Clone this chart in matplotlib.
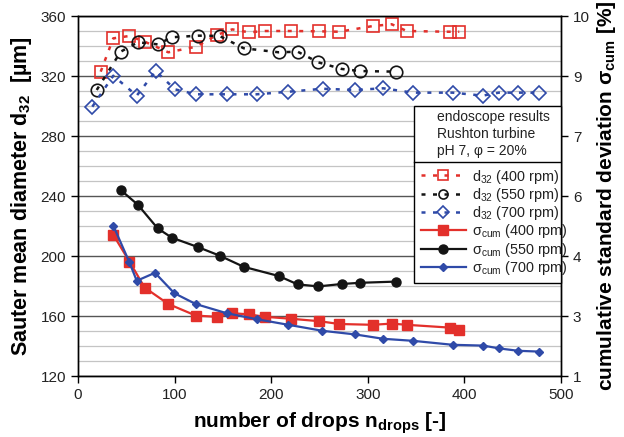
import matplotlib
matplotlib.use("Agg")
import matplotlib.pyplot as plt
from matplotlib.patches import Rectangle
from matplotlib.lines import Line2D
from matplotlib.ticker import MultipleLocator, FixedLocator, FixedFormatter

plt.rcParams['font.family'] = ['Liberation Sans', 'DejaVu Sans']
plt.rcParams['mathtext.fontset'] = 'custom'
plt.rcParams['mathtext.rm'] = 'Liberation Sans'
plt.rcParams['mathtext.it'] = 'Liberation Sans:italic'
plt.rcParams['mathtext.bf'] = 'Liberation Sans:bold'

# ---------------- data ----------------
# Sauter mean diameter d32 [um] (left axis)
d32_400_x = [23.5, 36.5, 53.3, 69.0, 93.5, 122.0, 143.6, 159.7, 177.0, 193.6, 221.0, 249.7, 270.5, 305.1, 324.7, 340.3, 384.7, 394.7]
d32_400_y = [322.9, 345.1, 346.7, 342.9, 335.8, 339.5, 347.3, 351.1, 349.1, 350.0, 350.0, 349.8, 349.5, 353.3, 354.5, 350.0, 349.5, 349.5]

d32_550_x = [19.4, 44.2, 62.0, 82.5, 97.0, 124.5, 146.5, 171.5, 207.8, 227.4, 248.8, 273.0, 291.9, 329.2]
d32_550_y = [310.7, 336.2, 342.5, 341.1, 345.8, 346.9, 346.7, 338.5, 335.8, 336.2, 329.1, 324.7, 323.3, 322.9]

d32_700_x = [14.8, 36.5, 60.8, 80.4, 100.4, 122.2, 153.9, 185.0, 217.7, 253.2, 286.7, 316.0, 346.5, 387.9, 418.9, 435.8, 455.8, 477.5]
d32_700_y = [299.5, 320.2, 306.9, 323.3, 311.1, 307.8, 307.8, 307.8, 309.5, 311.5, 310.7, 311.8, 308.9, 308.9, 306.9, 308.9, 308.9, 308.9]

# cumulative standard deviation sigma_cum [%] (right axis)
sig_400_x = [36.5, 53.3, 69.0, 93.5, 122.0, 143.6, 159.7, 177.0, 193.6, 221.0, 249.7, 270.5, 305.1, 324.7, 340.3, 384.7, 394.7]
sig_400_y = [4.53, 3.86, 3.21, 2.80, 2.51, 2.48, 2.57, 2.54, 2.48, 2.43, 2.37, 2.30, 2.28, 2.31, 2.28, 2.21, 2.16]

sig_550_x = [44.2, 62.0, 82.5, 97.0, 124.5, 146.5, 171.5, 207.8, 227.4, 248.8, 273.0, 291.9, 329.2]
sig_550_y = [5.65, 5.28, 4.69, 4.46, 4.22, 4.01, 3.73, 3.50, 3.29, 3.24, 3.30, 3.33, 3.36]

sig_700_x = [36.5, 53.1, 60.8, 79.7, 99.7, 121.8, 153.9, 185.0, 217.7, 253.1, 286.7, 316.0, 346.5, 387.9, 419.6, 435.8, 455.8, 477.5]
sig_700_y = [4.76, 3.85, 3.38, 3.58, 3.07, 2.80, 2.57, 2.42, 2.28, 2.13, 2.04, 1.93, 1.88, 1.78, 1.76, 1.69, 1.63, 1.61]

right_ticks = [1, 2.5, 4, 5.5, 7, 8.5, 10]
right_tick_labels = ['1', '3', '4', '6', '7', '9', '10']
x_ticks = [0, 100, 200, 300, 400, 500]
left_ticks = [120, 160, 200, 240, 280, 320, 360]

header_lines = ['endoscope results', 'Rushton turbine', 'pH 7, \u03c6 = 20%']

RED = '#e3302b'
BLACK = '#141414'
BLUE = '#2f4aa8'

W, H = 624, 437
fig = plt.figure(figsize=(W / 100, H / 100), dpi=100)
ax = fig.add_axes([78 / W, 1 - 376 / H, 483 / W, 360 / H])
ax2 = ax.twinx()

ax.set_xlim(0, 500)
ax.set_ylim(120, 360)
ax2.set_ylim(1, 10)

# grid
ax.yaxis.set_major_locator(FixedLocator(left_ticks))
ax.yaxis.set_minor_locator(MultipleLocator(10))
ax.xaxis.set_major_locator(FixedLocator(x_ticks))
ax.grid(axis='y', which='minor', color='#c4c4c4', lw=0.9)
ax.grid(axis='y', which='major', color='#555555', lw=1.0)
ax.set_axisbelow(True)
ax.tick_params(axis='y', which='minor', length=0)
ax.tick_params(axis='both', which='major', direction='out', length=5, width=1,
               labelsize=11, color='black', labelcolor='#222222')
ax2.yaxis.set_major_locator(FixedLocator(right_ticks))
ax2.yaxis.set_major_formatter(FixedFormatter(right_tick_labels))
ax2.tick_params(axis='y', direction='out', length=5, width=1, labelsize=11,
                labelcolor='#222222')

dash = (0, (1.6, 3.0))
ms_kw = dict(mfc='none', mew=1.2)
ax.plot(d32_400_x, d32_400_y, color=RED, ls=dash, lw=1.8, marker='s', ms=9, mec=RED,
        label='d$_{\\mathrm{32}}$ (400 rpm)', **ms_kw)
ax.plot(d32_550_x, d32_550_y, color=BLACK, ls=dash, lw=1.8, marker='o', ms=9, mec=BLACK,
        label='d$_{\\mathrm{32}}$ (550 rpm)', **ms_kw)
ax.plot(d32_700_x, d32_700_y, color=BLUE, ls=dash, lw=1.8, marker='D', ms=7, mec=BLUE,
        label='d$_{\\mathrm{32}}$ (700 rpm)', **ms_kw)

ax2.plot(sig_400_x, sig_400_y, color=RED, lw=1.6, marker='s', ms=6.5,
         label='\u03c3$_{\\mathrm{cum}}$ (400 rpm)')
ax2.plot(sig_550_x, sig_550_y, color=BLACK, lw=1.6, marker='o', ms=6.5,
         label='\u03c3$_{\\mathrm{cum}}$ (550 rpm)')
ax2.plot(sig_700_x, sig_700_y, color=BLUE, lw=1.6, marker='D', ms=4.5,
         label='\u03c3$_{\\mathrm{cum}}$ (700 rpm)')

for sp in list(ax.spines.values()) + list(ax2.spines.values()):
    sp.set_color('black')
    sp.set_linewidth(1.0)

ax.set_xlabel('number of drops n$_{\\mathbf{drops}}$ [-]', fontsize=15, fontweight='bold', labelpad=6)
ax.set_ylabel('Sauter mean diameter d$_{\\mathbf{32}}$  [\u00b5m]', fontsize=15.5, fontweight='bold', labelpad=5)
ax2.set_ylabel('cumulative standard deviation \u03c3$_{\\mathbf{cum}}$ [%]', fontsize=15,
               fontweight='bold', labelpad=3.5)

# legend box
bx0, by0, bx1, by1 = 414, 106, 561, 283
ax2.add_patch(Rectangle((bx0 / W, 1 - by1 / H), (bx1 - bx0) / W, (by1 - by0) / H,
                        transform=fig.transFigure, facecolor='white', edgecolor='black',
                        lw=1.0, zorder=5, clip_on=False))
ax2.add_line(Line2D([bx0 / W, bx1 / W], [1 - 161.5 / H, 1 - 161.5 / H], transform=fig.transFigure,
                    color='black', lw=1.0, zorder=6))
for i, t in enumerate(header_lines):
    fig.text(437 / W, 1 - (116.5 + i * 17) / H, t, fontsize=10, va='center', ha='left',
             color='#222222', zorder=7)

h1, l1 = ax.get_legend_handles_labels()
h2, l2 = ax2.get_legend_handles_labels()
leg = ax2.legend(h1 + h2, l1 + l2, loc='upper left', bbox_to_anchor=(421 / W, 1 - 167.5 / H),
                 bbox_transform=fig.transFigure, frameon=False, fontsize=10.4,
                 handlelength=3.1, handletextpad=0.45, labelspacing=0.02, borderpad=0,
                 borderaxespad=0)
leg.set_zorder(8)
for t in leg.get_texts():
    t.set_color('#222222')
for hnd in leg.legend_handles[:3]:
    hnd.set_markersize(6.5)

fig.savefig('out.png', dpi=100)
